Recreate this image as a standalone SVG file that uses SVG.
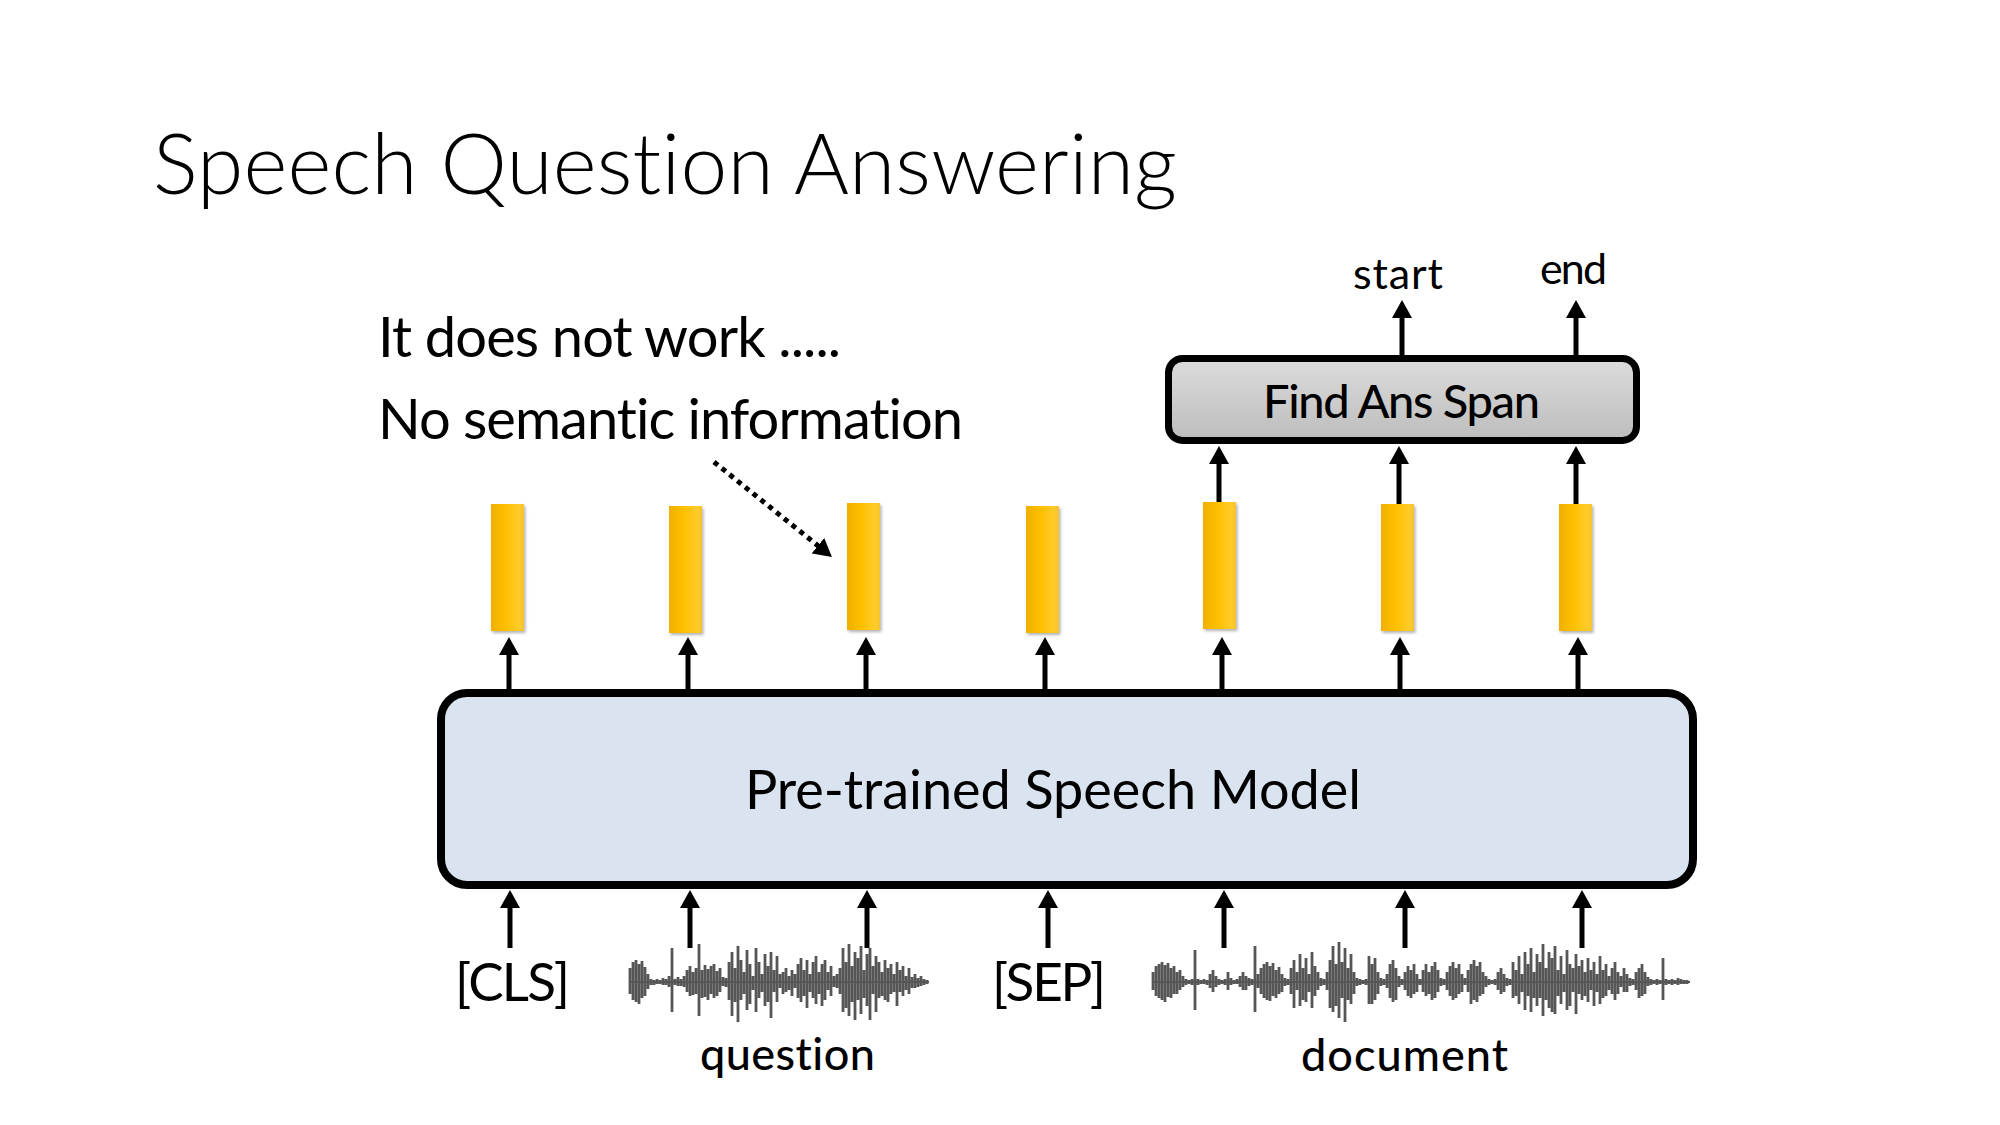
<svg xmlns="http://www.w3.org/2000/svg" width="2000" height="1125" viewBox="0 0 2000 1125">
  <style>
    .t { font-family: Lato, "Open Sans", "Liberation Sans", sans-serif; fill: #000; font-variant-ligatures: none; font-feature-settings: "liga" 0; }
    .light { font-weight: 300; }
    .med { font-weight: 500; }
    .arrow { stroke: #000; stroke-width: 5; fill: none; marker-end: url(#ah); }
    .dotted { stroke: #000; stroke-width: 5; fill: none; stroke-dasharray: 5 5; marker-end: url(#ah); }
    .bar { fill: url(#barGrad); filter: url(#barShadow); }
    .wave { stroke: #575757; stroke-width: 2.8; fill: none; filter: url(#soft); }
  </style>
  <defs>
    <marker id="ah" markerUnits="userSpaceOnUse" viewBox="0 0 18 20" markerWidth="18" markerHeight="20" refX="2" refY="10" orient="auto">
      <path d="M0,0 L18,10 L0,20 Z" fill="#000"/>
    </marker>
    <linearGradient id="barGrad" x1="0" y1="0" x2="1" y2="0">
      <stop offset="0" stop-color="#EFB000"/>
      <stop offset="0.45" stop-color="#FFC000"/>
      <stop offset="0.85" stop-color="#FFCB2A"/>
      <stop offset="1" stop-color="#F6C330"/>
    </linearGradient>
    <linearGradient id="findGrad" x1="0" y1="0" x2="0" y2="1">
      <stop offset="0" stop-color="#dcdcdc"/>
      <stop offset="1" stop-color="#bdbdbd"/>
    </linearGradient>
    <filter id="barShadow" x="-30%" y="-10%" width="160%" height="125%">
      <feDropShadow dx="1.5" dy="2" stdDeviation="1.5" flood-color="#000" flood-opacity="0.3"/>
    </filter>
    <filter id="soft" x="-5%" y="-20%" width="110%" height="140%">
      <feGaussianBlur stdDeviation="0.6"/>
    </filter>
  </defs>

  <rect width="2000" height="1125" fill="#fff"/>

  <!-- heading and notes -->
  <g id="title">
    <text class="t light" x="153" y="194" font-size="84" textLength="1024">Speech Question Answering</text>
  </g>
  <g id="note">
    <text class="t" x="378" y="357" font-size="56" textLength="463">It does not work .....</text>
    <text class="t" x="378" y="439" font-size="56" textLength="585">No semantic information</text>
  </g>

  <!-- answer-span head -->
  <g id="find-ans-span">
    <rect x="1168.5" y="358.5" width="468" height="82" rx="14" fill="url(#findGrad)" stroke="#000" stroke-width="7"/>
    <text class="t med" x="1263" y="418" font-size="47" textLength="277">Find Ans Span</text>
  </g>
  <g id="out-start"><text class="t" x="1353" y="289" font-size="43" textLength="90">start</text></g>
  <g id="out-end"><text class="t" x="1540" y="284" font-size="43" textLength="67">end</text></g>

  <!-- per-frame representations -->
  <g id="vec1"><rect class="bar" x="491" y="504" width="33" height="127"/></g>
  <g id="vec2"><rect class="bar" x="669" y="506" width="33" height="127"/></g>
  <g id="vec3"><rect class="bar" x="847" y="503" width="33" height="127"/></g>
  <g id="vec4"><rect class="bar" x="1026" y="506" width="33" height="127"/></g>
  <g id="vec5"><rect class="bar" x="1203" y="502" width="33" height="127"/></g>
  <g id="vec6"><rect class="bar" x="1381" y="504" width="33" height="127"/></g>
  <g id="vec7"><rect class="bar" x="1559" y="504" width="33" height="127"/></g>

  <!-- encoder -->
  <g id="speech-model">
    <rect x="441" y="693" width="1252" height="192" rx="26" fill="#DAE3F0" stroke="#000" stroke-width="8"/>
    <text class="t" x="745" y="809" font-size="54" textLength="616">Pre-trained Speech Model</text>
  </g>

  <!-- inputs -->
  <g id="cls"><text class="t" x="455" y="1001" font-size="53" textLength="115">[CLS]</text></g>
  <g id="sep"><text class="t" x="992" y="1001" font-size="53" textLength="114">[SEP]</text></g>

  <g id="question">
    <line x1="630" y1="982" x2="929" y2="982" stroke="#555" stroke-width="2"/>
    <path class="wave" d="M630 968V994M633 962V1000M636 960V1002M639 964V1004M642 961V998M645 967V996M648 974V989M651 979V985M654 980V985M657 979V984M660 980V984M663 978V985M666 979V985M669 976V987M672 948V1012M675 979V985M678 977V986M681 979V986M684 976V987M687 970V992M690 966V996M693 972V995M696 968V994M699 944V1016M702 970V998M705 965V997M708 969V1000M711 966V994M714 964V998M717 971V996M720 968V992M723 977V986M726 978V987M729 962V1000M732 952V1016M735 968V1002M738 946V1022M741 960V1000M744 972V994M747 950V1010M750 964V1004M753 976V990M756 948V1012M759 962V998M762 974V992M765 954V1006M768 966V1002M771 952V1018M774 970V992M777 956V1002M780 974V988M783 972V994M786 968V992M789 976V990M792 970V996M795 974V988M798 964V998M801 958V1002M804 970V996M807 960V1008M810 974V992M813 962V998M816 956V1004M819 972V994M822 964V1006M825 960V1000M828 972V990M831 966V996M834 976V987M837 974V988M840 968V994M843 948V1012M846 962V1008M849 944V1016M852 966V1002M855 952V1020M858 958V1000M861 946V1014M864 970V998M867 954V1006M870 948V1020M873 966V994M876 956V1012M879 962V998M882 972V996M885 960V1000M888 968V1002M891 964V994M894 974V992M897 962V1006M900 970V992M903 966V996M906 976V990M909 968V994M912 977V988M915 974V988M918 978V987M921 976V986M924 979V985M927 980V984"/>
    <text class="t med" x="700" y="1070" font-size="45" textLength="175">question</text>
  </g>

  <g id="document">
    <line x1="1153" y1="982" x2="1690" y2="982" stroke="#555" stroke-width="2"/>
    <path class="wave" d="M1153 972V990M1156 966V996M1159 964V998M1162 962V1000M1165 965V1002M1168 963V997M1171 968V998M1174 966V994M1177 972V994M1180 970V990M1183 976V987M1186 979V985M1189 980V984M1192 979V985M1195 950V1010M1198 979V985M1201 980V984M1204 979V984M1207 980V985M1210 974V988M1213 970V992M1216 976V987M1219 979V985M1222 980V984M1225 979V985M1228 972V990M1231 978V985M1234 980V984M1237 979V984M1240 976V987M1243 972V990M1246 976V990M1249 978V986M1252 979V985M1255 946V1012M1258 974V988M1261 968V994M1264 964V998M1267 962V1000M1270 966V1001M1273 963V996M1276 970V998M1279 967V994M1282 974V992M1285 978V986M1288 979V985M1291 968V994M1294 960V1008M1297 972V990M1300 954V1006M1303 968V1000M1306 958V1002M1309 974V992M1312 952V1008M1315 966V996M1318 972V990M1321 978V986M1324 979V985M1327 972V990M1330 960V1008M1333 946V1012M1336 964V1006M1339 942V1018M1342 962V998M1345 948V1022M1348 968V1000M1351 954V1004M1354 972V994M1357 978V986M1360 979V985M1363 980V984M1366 979V985M1369 956V1004M1372 964V1004M1375 958V1000M1378 972V994M1381 978V986M1384 979V985M1387 974V988M1390 964V998M1393 960V1002M1396 968V1000M1399 976V987M1402 979V985M1405 972V990M1408 966V996M1411 970V998M1414 964V994M1417 974V992M1420 979V985M1423 970V992M1426 964V996M1429 972V994M1432 966V1000M1435 962V998M1438 970V992M1441 978V986M1444 979V985M1447 972V990M1450 966V996M1453 962V1000M1456 968V998M1459 964V994M1462 974V992M1465 978V985M1468 970V992M1471 964V1004M1474 960V1000M1477 966V1002M1480 962V996M1483 972V994M1486 976V987M1489 979V985M1492 980V984M1495 979V985M1498 972V990M1501 968V994M1504 974V992M1507 978V986M1510 979V985M1513 962V998M1516 970V996M1519 956V1004M1522 974V992M1525 952V1010M1528 964V996M1531 948V1012M1534 972V998M1537 954V1006M1540 962V998M1543 944V1016M1546 968V1000M1549 952V1008M1552 958V1012M1555 946V1014M1558 970V996M1561 956V1004M1564 974V992M1567 950V1010M1570 964V1006M1573 968V992M1576 954V1014M1579 966V994M1582 960V1000M1585 972V996M1588 958V1002M1591 970V990M1594 962V1006M1597 974V992M1600 956V1004M1603 970V998M1606 964V996M1609 976V990M1612 968V994M1615 962V1000M1618 972V994M1621 976V987M1624 968V992M1627 974V992M1630 978V986M1633 979V985M1636 972V990M1639 968V998M1642 964V996M1645 972V994M1648 977V986M1651 979V985M1654 980V984M1657 979V985M1660 980V984M1663 958V1000M1666 979V985M1669 980V984M1672 979V985M1675 980V984M1678 978V985M1681 979V984M1684 980V984M1687 980V984"/>
    <text class="t med" x="1301" y="1071" font-size="45" textLength="207">document</text>
  </g>

  <!-- connectors -->
  <g id="connectors">
    <!-- inputs into the encoder -->
    <line class="arrow" x1="510" y1="948" x2="510" y2="906"/>
    <line class="arrow" x1="690" y1="948" x2="690" y2="906"/>
    <line class="arrow" x1="867" y1="948" x2="867" y2="906"/>
    <line class="arrow" x1="1048" y1="948" x2="1048" y2="906"/>
    <line class="arrow" x1="1224" y1="948" x2="1224" y2="906"/>
    <line class="arrow" x1="1405" y1="948" x2="1405" y2="906"/>
    <line class="arrow" x1="1582" y1="948" x2="1582" y2="906"/>
    <!-- encoder to frame vectors -->
    <line class="arrow" x1="509" y1="689" x2="509" y2="653"/>
    <line class="arrow" x1="688" y1="689" x2="688" y2="653"/>
    <line class="arrow" x1="866" y1="689" x2="866" y2="653"/>
    <line class="arrow" x1="1045" y1="689" x2="1045" y2="653"/>
    <line class="arrow" x1="1222" y1="689" x2="1222" y2="653"/>
    <line class="arrow" x1="1400" y1="689" x2="1400" y2="653"/>
    <line class="arrow" x1="1578" y1="689" x2="1578" y2="653"/>
    <!-- document vectors to span head -->
    <line class="arrow" x1="1219" y1="502" x2="1219" y2="462"/>
    <line class="arrow" x1="1399" y1="504" x2="1399" y2="462"/>
    <line class="arrow" x1="1576" y1="504" x2="1576" y2="462"/>
    <!-- span head outputs -->
    <line class="arrow" x1="1402" y1="355" x2="1402" y2="316"/>
    <line class="arrow" x1="1576" y1="355" x2="1576" y2="316"/>
    <!-- annotation pointer -->
    <line class="dotted" x1="714" y1="462" x2="819.5" y2="547"/>
  </g>
</svg>
